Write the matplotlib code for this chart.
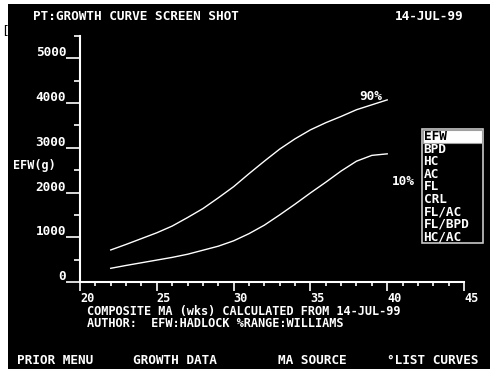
import numpy as np
import matplotlib
matplotlib.use('Agg')
import matplotlib.pyplot as plt
from matplotlib.patches import Rectangle
import matplotlib.transforms as mtrans

# gestational age (weeks) and EFW percentile curves (g)
weeks = [22, 23, 24, 25, 26, 27, 28, 29, 30, 31, 32, 33, 34, 35, 36, 37, 38, 39, 40]
p90 = [716, 840, 970, 1100, 1250, 1440, 1640, 1880, 2130, 2420, 2700, 2970, 3200, 3400, 3560, 3700, 3850, 3960, 4070]
p10 = [306, 370, 430, 490, 550, 620, 710, 800, 920, 1080, 1270, 1500, 1740, 1990, 2230, 2480, 2700, 2830, 2864]

x_major = [20, 25, 30, 35, 40, 45]
y_major = [0, 1000, 2000, 3000, 4000, 5000]
menu_items = ['EFW', 'BPD', 'HC', 'AC', 'FL', 'CRL', 'FL/AC', 'FL/BPD', 'HC/AC']
bottom_menu = [('PRIOR MENU', 17), ('GROWTH DATA', 133), ('MA SOURCE', 278), ('\u00b0LIST CURVES', 387)]

W, H = 490, 369
def fx(px):
    return px / W
def fy(py):
    return 1 - py / H

FONT = 'DejaVu Sans Mono'
fs = 9.2
fs_small = 8.6

fig = plt.figure(figsize=(4.9, 3.69), dpi=100, facecolor='white')
# black "screen"
fig.add_artist(Rectangle((fx(8), 0), 1 - fx(8), fy(4), transform=fig.transFigure,
                         facecolor='black', edgecolor='none', zorder=-1))
fig.text(fx(1), fy(31), '[', color='black', fontsize=fs, family=FONT, va='center')

ax = fig.add_axes([fx(80), fy(282), 384 / W, (282 - 35.9) / H])
ax.set_facecolor('none')
ax.plot(weeks, p90, color='white', lw=1)
ax.plot(weeks, p10, color='white', lw=1)
ax.set_xlim(20, 45)
ax.set_ylim(0, 5500)

for s in ('top', 'right'):
    ax.spines[s].set_visible(False)
for s in ('left', 'bottom'):
    ax.spines[s].set_color('white')
    ax.spines[s].set_linewidth(1.5)

ax.set_xticks(x_major)
ax.set_xticks(np.arange(20, 46, 1), minor=True)
ax.set_yticks(y_major)
ax.set_yticks(np.arange(500, 5501, 1000), minor=True)
ax.tick_params(axis='x', which='major', direction='out', length=6.5, width=1.2, color='white', labelbottom=False)
ax.tick_params(axis='x', which='minor', direction='out', length=3.2, width=1.2, color='white')
ax.tick_params(axis='y', which='major', direction='out', length=10, width=1.2, color='white', labelleft=False)
ax.tick_params(axis='y', which='minor', direction='out', length=4.3, width=1.2, color='white')

# tick labels (screen style)
xt = mtrans.blended_transform_factory(ax.transData, ax.transAxes)
for v in x_major:
    ax.text(v, -0.069, str(v), transform=xt, color='white', fontsize=fs_small, family=FONT,
            weight='bold', ha='left', va='center')
yt = mtrans.blended_transform_factory(ax.transAxes, ax.transData)
for v in y_major:
    ax.text(-0.036, v + 40, str(v), transform=yt, color='white', fontsize=fs, family=FONT,
            weight='bold', ha='right', va='baseline')

ax.text(38.2, 4145, '90%', color='white', fontsize=fs, family=FONT, weight='bold', va='center')
ax.text(40.3, 2250, '10%', color='white', fontsize=fs, family=FONT, weight='bold', va='center')

fig.text(fx(13), fy(166), 'EFW(g)', color='white', fontsize=8.5, family=FONT, weight='bold', va='center')

# header
fig.text(fx(33), fy(16), 'PT:GROWTH CURVE SCREEN SHOT', color='white', fontsize=fs, family=FONT, weight='bold', va='center')
fig.text(fx(395), fy(16), '14-JUL-99', color='white', fontsize=fs, family=FONT, weight='bold', va='center')

# footer text
fig.text(fx(87), fy(311.5), 'COMPOSITE MA (wks) CALCULATED FROM 14-JUL-99', color='white', fontsize=fs_small,
         family=FONT, weight='bold', va='center')
fig.text(fx(87), fy(323.5), 'AUTHOR:  EFW:HADLOCK %RANGE:WILLIAMS', color='white', fontsize=fs_small,
         family=FONT, weight='bold', va='center')
for label, px in bottom_menu:
    fig.text(fx(px), fy(360), label, color='white', fontsize=fs, family=FONT, weight='bold', va='center')

# curve selection menu
fig.add_artist(Rectangle((fx(421.7), fy(243.3)), (482.7 - 421.7) / W, (243.3 - 129.3) / H,
                         transform=fig.transFigure, facecolor='black', edgecolor='#c8c8c8', lw=1.2, zorder=5))
fig.add_artist(Rectangle((fx(423), fy(143.5)), (481.5 - 423) / W, (143.5 - 130.5) / H,
                         transform=fig.transFigure, facecolor='white', edgecolor='#a0a0a0', lw=0.8, zorder=6))
for i, item in enumerate(menu_items):
    fig.text(fx(423.5), fy(136.8 + i * 12.5), item, color='black' if i == 0 else 'white',
             fontsize=fs, family=FONT, weight='bold', va='center', zorder=7)

fig.savefig('out.png', dpi=100)
